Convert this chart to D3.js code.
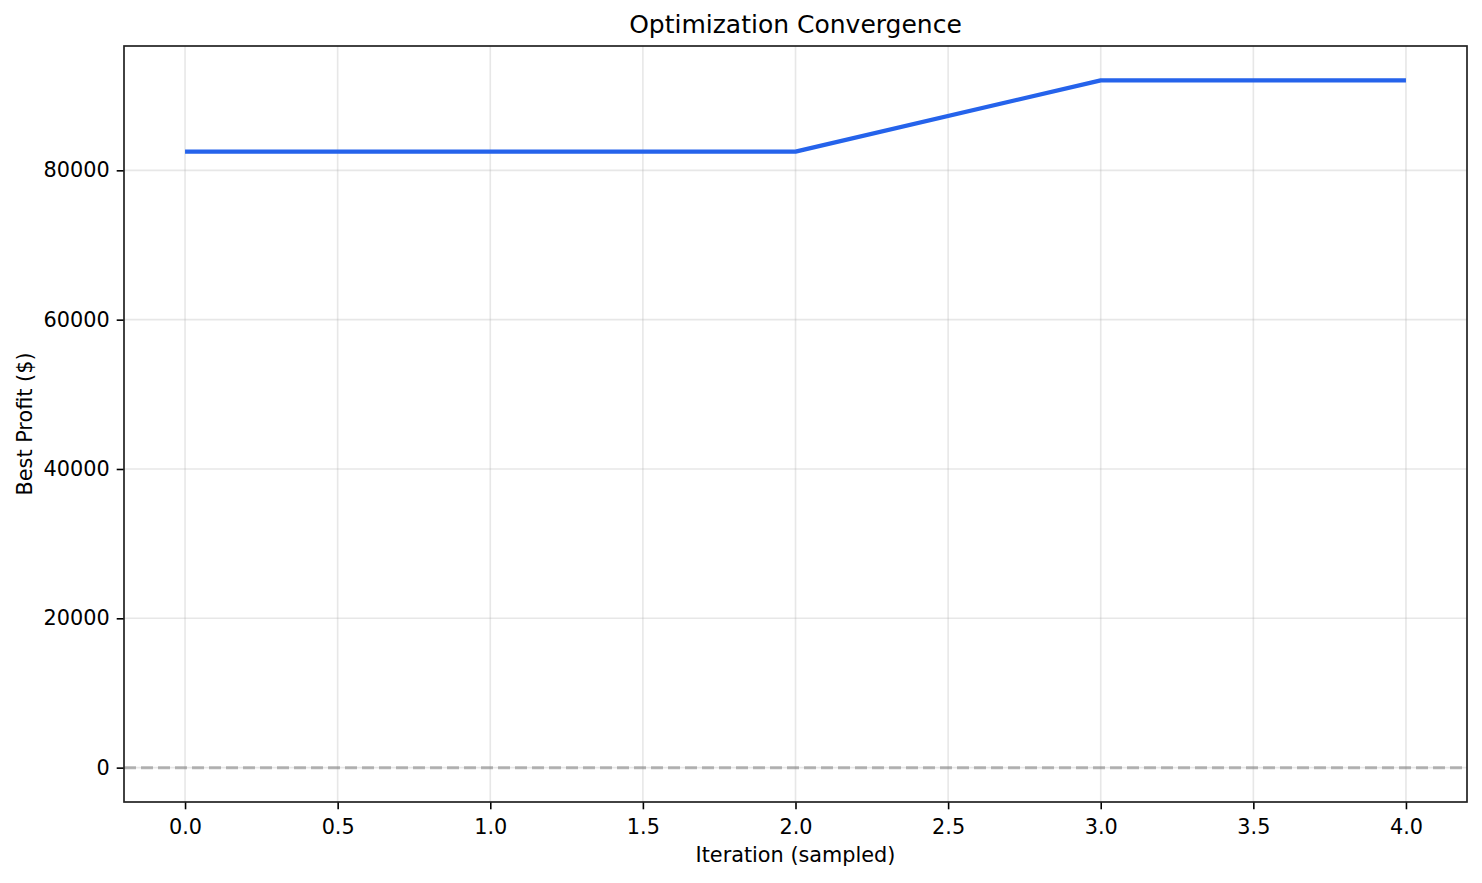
<!DOCTYPE html>
<html>
<head>
<meta charset="utf-8">
<script src="https://cdn.jsdelivr.net/npm/d3@7"></script>
<style>
  body { margin: 0; background: white; }
  text { font-family: "DejaVu Sans", sans-serif; fill: #000; }
</style>
</head>
<body>
<div id="chart"></div>
<script>
// data
const iterations = [0, 1, 2, 3, 4]
const bestProfit = [82500, 82500, 82500, 92050, 92050]
const xTicks = [0, 0.5, 1, 1.5, 2, 2.5, 3, 3.5, 4]
const yTicks = [0, 20000, 40000, 60000, 80000]

const WD = 1482, HT = 883
const margin = { left: 124, right: 15, top: 46, bottom: 81 }
const width = WD - margin.left - margin.right
const height = HT - margin.top - margin.bottom

var svg = d3.select("#chart")
            .append("svg")
              .attr("width", WD)
              .attr("height", HT)

var g = svg.append("g")
           .attr("transform", "translate(" + margin.left + "," + margin.top + ")")

const xs = d3.scaleLinear().domain([-0.2, 4.2]).range([0, width])
const ymax = d3.max(bestProfit)
const pad = ymax * 0.05
const ys = d3.scaleLinear().domain([-pad, ymax + pad]).range([height, 0])

// grid
g.selectAll(".xgrid").data(xTicks).enter().append("line")
    .attr("x1", d => xs(d)).attr("x2", d => xs(d))
    .attr("y1", 0).attr("y2", height)
    .attr("stroke", "#b0b0b0").attr("stroke-opacity", 0.3).attr("stroke-width", 1.6)
g.selectAll(".ygrid").data(yTicks).enter().append("line")
    .attr("x1", 0).attr("x2", width)
    .attr("y1", d => ys(d)).attr("y2", d => ys(d))
    .attr("stroke", "#b0b0b0").attr("stroke-opacity", 0.3).attr("stroke-width", 1.6)

// zero reference line
g.append("line")
    .attr("x1", 0).attr("x2", width)
    .attr("y1", ys(0)).attr("y2", ys(0))
    .attr("stroke", "#808080").attr("stroke-opacity", 0.55)
    .attr("stroke-width", 3).attr("stroke-dasharray", "12,5")

// the convergence line
const line = d3.line().x((d, i) => xs(iterations[i])).y(d => ys(d))
g.append("path")
    .datum(bestProfit)
    .attr("d", line)
    .attr("fill", "none")
    .attr("stroke", "#2563eb")
    .attr("stroke-width", 4.2)
    .attr("stroke-linejoin", "round")

// axes
const xAxis = g.append("g")
    .attr("transform", "translate(0," + height + ")")
    .call(d3.axisBottom(xs).tickValues(xTicks).tickFormat(d3.format(".1f")).tickSizeOuter(0).tickSize(7.3).tickPadding(9.5))
const yAxis = g.append("g")
    .call(d3.axisLeft(ys).tickValues(yTicks).tickFormat(d => d).tickSizeOuter(0).tickSize(7.3).tickPadding(7))

;[xAxis, yAxis].forEach(a => {
  a.select(".domain").remove()
  a.selectAll(".tick line").attr("stroke", "#000").attr("stroke-width", 1.6)
  a.selectAll(".tick text").attr("font-size", "20.8px").attr("font-family", "DejaVu Sans").attr("fill", "#000")
})

// frame
g.append("rect")
    .attr("width", width).attr("height", height)
    .attr("fill", "none").attr("stroke", "#222").attr("stroke-width", 1.7)

// title and labels
svg.append("text")
    .attr("x", margin.left + width / 2)
    .attr("y", 33)
    .attr("text-anchor", "middle")
    .attr("font-size", "25px")
    .text("Optimization Convergence")

svg.append("text")
    .attr("x", margin.left + width / 2)
    .attr("y", 862)
    .attr("text-anchor", "middle")
    .attr("font-size", "20.8px")
    .text("Iteration (sampled)")

svg.append("text")
    .attr("transform", "translate(32," + (margin.top + height / 2) + ") rotate(-90)")
    .attr("text-anchor", "middle")
    .attr("font-size", "20.8px")
    .text("Best Profit ($)")
</script>
</body>
</html>
